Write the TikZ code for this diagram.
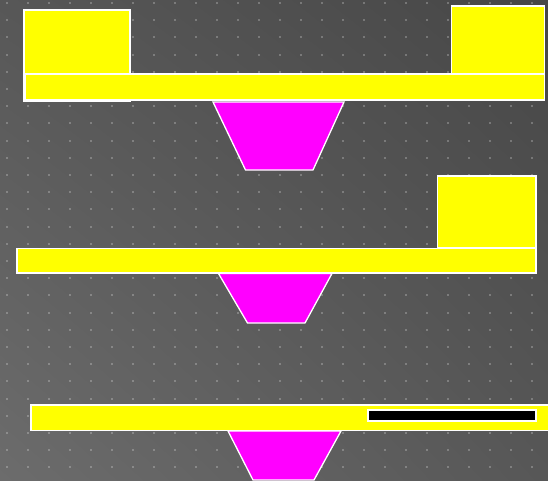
\documentclass[tikz,border=0pt]{standalone}
\usetikzlibrary{shadings}
\definecolor{bgTL}{HTML}{575757}
\definecolor{bgTR}{HTML}{474747}
\definecolor{bgBL}{HTML}{6C6C6C}
\definecolor{bgBR}{HTML}{575757}
\definecolor{plate}{HTML}{FFFF00}
\definecolor{cup}{HTML}{FF00FF}
\tikzset{
  platebox/.style={fill=plate, draw=white, line width=1.3pt},
  cupbox/.style={fill=cup, draw=white, line width=1.3pt, line join=miter},
  slotbox/.style={fill=black, draw=white, line width=1.3pt},
  griddot/.style={fill=white, fill opacity=0.24},
}
\begin{document}
\begin{tikzpicture}[x=1pt,y=-1pt]
\useasboundingbox (0,0) rectangle (548,481);
\shade[upper left=bgTL, upper right=bgTR, lower left=bgBL, lower right=bgBR] (0,0) rectangle (548,481);
\foreach \i in {0,...,26} {
  \foreach \j in {0,...,27} {
    \fill[griddot] ({7+21*\i-1},{3+17.2*\j-1}) rectangle ++(2,2);
  }
}
\begin{scope}
\clip (0,0) rectangle (548,481);
% top group
\draw[platebox] (24,10) rectangle (130,101);
\draw[platebox] (451.5,6) rectangle (544.5,74);
\draw[platebox] (25,74) rectangle (544.5,100);
\draw[cupbox] (213,102) -- (344,102) -- (313,170) -- (245.5,170) -- cycle;
% middle group
\draw[platebox] (437.5,176) rectangle (536,248);
\draw[platebox] (17,248.5) rectangle (536,273);
\draw[cupbox] (218.5,273.5) -- (332,273.5) -- (305,323) -- (247.5,323) -- cycle;
% bottom group
\draw[platebox] (31,405) rectangle (560,430.5);
\draw[slotbox] (368,410) rectangle (536,421);
\draw[cupbox] (228,431) -- (341,431) -- (314,480) -- (253,480) -- cycle;
\end{scope}
\end{tikzpicture}
\end{document}
